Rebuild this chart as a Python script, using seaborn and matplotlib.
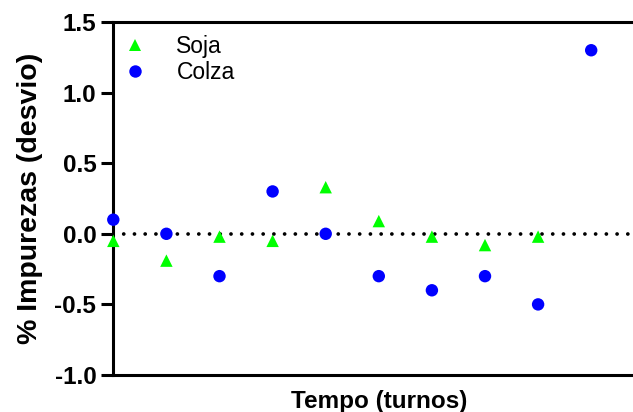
import numpy as np
import pandas as pd
import matplotlib
matplotlib.use("Agg")
import matplotlib.pyplot as plt
import seaborn as sns

# Deviation of impurity content per shift
turnos_soja = [0, 1, 2, 3, 4, 5, 6, 7, 8]
desvio_soja = [-0.05, -0.19, -0.02, -0.05, 0.33, 0.09, -0.02, -0.08, -0.02]

turnos_colza = [0, 1, 2, 3, 4, 5, 6, 7, 8, 9]
desvio_colza = [0.10, 0.00, -0.30, 0.30, 0.00, -0.30, -0.40, -0.30, -0.50, 1.30]

series = ["Soja", "Colza"]
yticks = [-1.0, -0.5, 0.0, 0.5, 1.0, 1.5]

df = pd.DataFrame({
    "turno": turnos_soja + turnos_colza,
    "desvio": desvio_soja + desvio_colza,
    "serie": ["Soja"] * len(turnos_soja) + ["Colza"] * len(turnos_colza),
})

sns.set_theme(style="white")
plt.rcParams["font.family"] = ["Liberation Sans", "DejaVu Sans"]
plt.rcParams.update({
    "text.color": "black",
    "axes.labelcolor": "black",
    "xtick.color": "black",
    "ytick.color": "black",
})

fig = plt.figure(figsize=(6.33, 4.12), dpi=100)
ax = fig.add_axes([113.3 / 633, 37 / 412, 531 / 633, 353 / 412])

# zero reference line, drawn as round dots
ax.axhline(0, color="black", lw=2.7, linestyle=(0, (0.01, 2.85)),
           dash_capstyle="round", zorder=1)

sns.scatterplot(
    data=df, x="turno", y="desvio", hue="serie", style="serie",
    hue_order=series, style_order=series,
    palette={"Soja": "#00ff00", "Colza": "#0000ff"},
    markers={"Soja": "^", "Colza": "o"},
    s=80, linewidth=0, ax=ax, zorder=3, clip_on=False,
)

ax.set_xlim(0, 10)
ax.set_ylim(-1.0, 1.5)
ax.set_yticks(yticks)
ax.set_yticklabels([f"{v:.1f}" for v in yticks],
                   fontsize=17.5, fontweight="bold", color="black")
ax.set_xticks([])

for side in ["left", "bottom", "top"]:
    ax.spines[side].set_linewidth(2.2)
    ax.spines[side].set_color("black")
ax.spines["right"].set_visible(False)

ax.tick_params(axis="y", which="major", length=8.6, width=2.2,
               direction="out", pad=3.6, left=True, colors="black")

ax.set_xlabel("Tempo (turnos)", fontsize=17.5, fontweight="bold",
              labelpad=11, color="black")
ax.set_ylabel("% Impurezas (desvio)", fontsize=20.5, fontweight="bold",
              labelpad=8, color="black")

leg = ax.legend(loc="upper left", bbox_to_anchor=(-0.002, 0.963),
                frameon=False, fontsize=16.5, borderaxespad=0, borderpad=0,
                labelspacing=0.15, handlelength=2.0, handletextpad=0.8,
                markerscale=1.0)
for t in leg.get_texts():
    t.set_color("black")

fig.savefig("out.png", dpi=100)
